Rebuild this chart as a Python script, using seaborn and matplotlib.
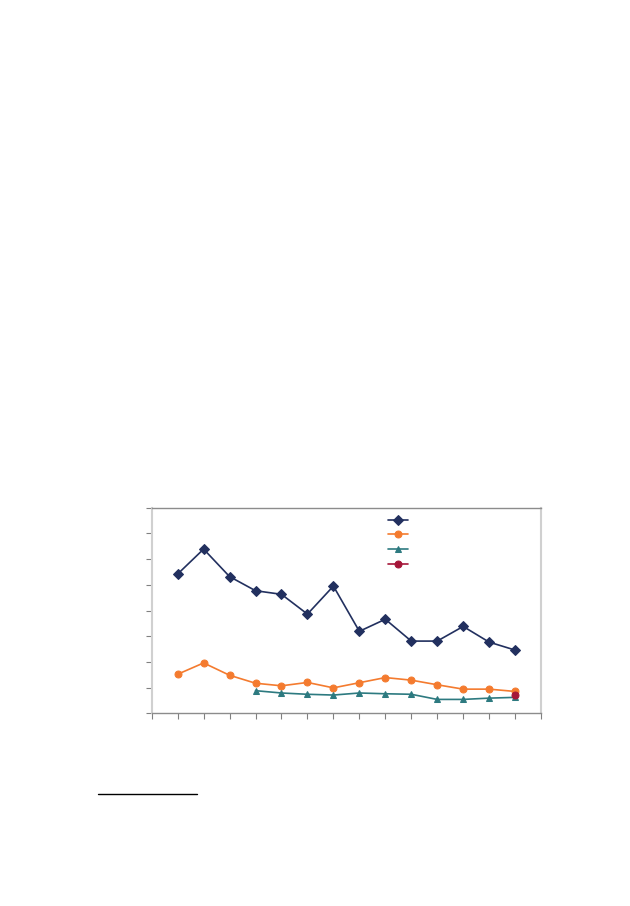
import numpy as np
import pandas as pd
import matplotlib
matplotlib.use('Agg')
import matplotlib.pyplot as plt
from matplotlib.lines import Line2D
import seaborn as sns

# values (y axis 0..8, x positions 1..14)
x_pos = list(range(1, 15))
navy_vals = [5.42, 6.39, 5.32, 4.77, 4.63, 3.86, 4.95, 3.19, 3.66, 2.81, 2.81, 3.38, 2.77, 2.46]
orange_vals = [1.52, 1.96, 1.48, 1.17, 1.07, 1.20, 0.99, 1.19, 1.39, 1.29, 1.11, 0.94, 0.94, 0.85]
teal_x = list(range(4, 15))
teal_vals = [0.88, 0.79, 0.74, 0.71, 0.79, 0.76, 0.74, 0.54, 0.54, 0.59, 0.62]
red_x = [14]
red_vals = [0.72]

series_names = ["s1", "s2", "s3", "s4"]
colors = ["#22305f", "#f47b2f", "#2d7a80", "#a51639"]
markers = ["D", "o", "^", "o"]

frames = [
    pd.DataFrame({"x": x_pos, "y": navy_vals, "series": "s1"}),
    pd.DataFrame({"x": x_pos, "y": orange_vals, "series": "s2"}),
    pd.DataFrame({"x": teal_x, "y": teal_vals, "series": "s3"}),
    pd.DataFrame({"x": red_x, "y": red_vals, "series": "s4"}),
]
df = pd.concat(frames, ignore_index=True)

sns.set_style("white")
fig = plt.figure(figsize=(6.3, 9.06), dpi=100)
ax = fig.add_axes([0.2408, 0.2127, 0.618, 0.2269])

for name, col, mk in zip(series_names, colors, markers):
    sub = df[df["series"] == name]
    sns.lineplot(data=sub, x="x", y="y", color=col, marker=mk, markersize=5,
                 markeredgecolor=col, linewidth=1.2, ax=ax, label=name)

ax.set_xlim(0, 15)
ax.set_ylim(0, 8)
ax.set_xticks(range(0, 16))
ax.set_yticks(range(0, 9))
ax.set_xticklabels([""] * 16)
ax.set_yticklabels([""] * 9)
ax.set_xlabel("")
ax.set_ylabel("")
ax.tick_params(axis="both", direction="out", length=4, width=0.8, color="#808080",
               bottom=True, left=True)

ax.spines["top"].set_color("#8c8c8c")
ax.spines["top"].set_linewidth(1.0)
ax.spines["right"].set_color("#d0d0d0")
ax.spines["right"].set_linewidth(1.5)
ax.spines["left"].set_color("#d0d0d0")
ax.spines["left"].set_linewidth(1.5)
ax.spines["bottom"].set_color("#8c8c8c")
ax.spines["bottom"].set_linewidth(1.0)

# legend entries have no text in the reference
handles, _ = ax.get_legend_handles_labels()
ax.legend(handles, ["", "", "", ""], loc="upper left", bbox_to_anchor=(0.58, 1.01),
          frameon=False, handlelength=1.8, labelspacing=0.42, fontsize=8)

# footnote separator line
fig.add_artist(Line2D([98 / 630, 197 / 630], [1 - 794 / 906, 1 - 794 / 906],
                      color="black", linewidth=1.0))

fig.savefig("out.png", dpi=100)
